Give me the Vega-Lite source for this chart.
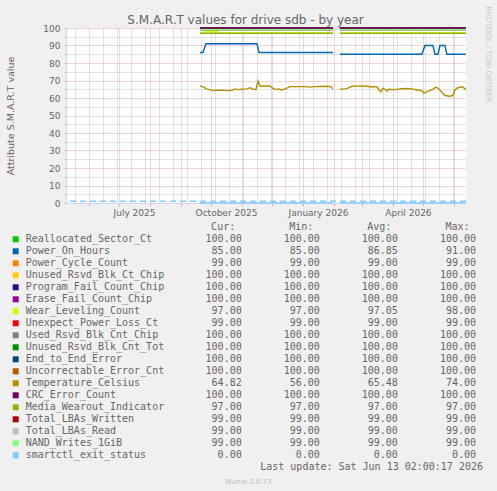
{
  "$schema": "https://vega.github.io/schema/vega-lite/v6.json",
  "background": "#F0F0F0",
  "autosize": "none",
  "padding": {"left": 66, "top": 28, "right": 31, "bottom": 288},
  "width": 400,
  "height": 175,
  "datasets": {
    "lines": [
      {"series": "Reallocated_Sector_Ct", "seg": "a", "date": "2025-09-20", "value": 100},
      {"series": "Reallocated_Sector_Ct", "seg": "a", "date": "2026-01-31", "value": 100},
      {"series": "Reallocated_Sector_Ct", "seg": "b", "date": "2026-02-07", "value": 100},
      {"series": "Reallocated_Sector_Ct", "seg": "b", "date": "2026-06-13", "value": 100},
      {"series": "Power_On_Hours", "seg": "a", "date": "2025-09-20", "value": 86},
      {"series": "Power_On_Hours", "seg": "a", "date": "2025-09-23", "value": 86},
      {"series": "Power_On_Hours", "seg": "a", "date": "2025-09-26", "value": 91},
      {"series": "Power_On_Hours", "seg": "a", "date": "2025-11-16", "value": 91},
      {"series": "Power_On_Hours", "seg": "a", "date": "2025-11-18", "value": 86},
      {"series": "Power_On_Hours", "seg": "a", "date": "2026-01-31", "value": 86},
      {"series": "Power_On_Hours", "seg": "b", "date": "2026-02-07", "value": 85},
      {"series": "Power_On_Hours", "seg": "b", "date": "2026-04-30", "value": 85},
      {"series": "Power_On_Hours", "seg": "b", "date": "2026-05-03", "value": 90},
      {"series": "Power_On_Hours", "seg": "b", "date": "2026-05-11", "value": 90},
      {"series": "Power_On_Hours", "seg": "b", "date": "2026-05-13", "value": 85},
      {"series": "Power_On_Hours", "seg": "b", "date": "2026-05-16", "value": 85},
      {"series": "Power_On_Hours", "seg": "b", "date": "2026-05-18", "value": 90},
      {"series": "Power_On_Hours", "seg": "b", "date": "2026-05-23", "value": 90},
      {"series": "Power_On_Hours", "seg": "b", "date": "2026-05-25", "value": 85},
      {"series": "Power_On_Hours", "seg": "b", "date": "2026-06-13", "value": 85},
      {"series": "Power_Cycle_Count", "seg": "a", "date": "2025-09-20", "value": 99},
      {"series": "Power_Cycle_Count", "seg": "a", "date": "2026-01-31", "value": 99},
      {"series": "Power_Cycle_Count", "seg": "b", "date": "2026-02-07", "value": 99},
      {"series": "Power_Cycle_Count", "seg": "b", "date": "2026-06-13", "value": 99},
      {"series": "Unused_Rsvd_Blk_Ct_Chip", "seg": "a", "date": "2025-09-20", "value": 100},
      {"series": "Unused_Rsvd_Blk_Ct_Chip", "seg": "a", "date": "2026-01-31", "value": 100},
      {"series": "Unused_Rsvd_Blk_Ct_Chip", "seg": "b", "date": "2026-02-07", "value": 100},
      {"series": "Unused_Rsvd_Blk_Ct_Chip", "seg": "b", "date": "2026-06-13", "value": 100},
      {"series": "Program_Fail_Count_Chip", "seg": "a", "date": "2025-09-20", "value": 100},
      {"series": "Program_Fail_Count_Chip", "seg": "a", "date": "2026-01-31", "value": 100},
      {"series": "Program_Fail_Count_Chip", "seg": "b", "date": "2026-02-07", "value": 100},
      {"series": "Program_Fail_Count_Chip", "seg": "b", "date": "2026-06-13", "value": 100},
      {"series": "Erase_Fail_Count_Chip", "seg": "a", "date": "2025-09-20", "value": 100},
      {"series": "Erase_Fail_Count_Chip", "seg": "a", "date": "2026-01-31", "value": 100},
      {"series": "Erase_Fail_Count_Chip", "seg": "b", "date": "2026-02-07", "value": 100},
      {"series": "Erase_Fail_Count_Chip", "seg": "b", "date": "2026-06-13", "value": 100},
      {"series": "Wear_Leveling_Count", "seg": "a", "date": "2025-09-20", "value": 97},
      {"series": "Wear_Leveling_Count", "seg": "a", "date": "2025-09-23", "value": 97},
      {"series": "Wear_Leveling_Count", "seg": "a", "date": "2025-09-26", "value": 98},
      {"series": "Wear_Leveling_Count", "seg": "a", "date": "2025-10-07", "value": 98},
      {"series": "Wear_Leveling_Count", "seg": "a", "date": "2025-10-10", "value": 97},
      {"series": "Wear_Leveling_Count", "seg": "a", "date": "2026-01-31", "value": 97},
      {"series": "Wear_Leveling_Count", "seg": "b", "date": "2026-02-07", "value": 97},
      {"series": "Wear_Leveling_Count", "seg": "b", "date": "2026-06-13", "value": 97},
      {"series": "Unexpect_Power_Loss_Ct", "seg": "a", "date": "2025-09-20", "value": 99},
      {"series": "Unexpect_Power_Loss_Ct", "seg": "a", "date": "2026-01-31", "value": 99},
      {"series": "Unexpect_Power_Loss_Ct", "seg": "b", "date": "2026-02-07", "value": 99},
      {"series": "Unexpect_Power_Loss_Ct", "seg": "b", "date": "2026-06-13", "value": 99},
      {"series": "Used_Rsvd_Blk_Cnt_Chip", "seg": "a", "date": "2025-09-20", "value": 100},
      {"series": "Used_Rsvd_Blk_Cnt_Chip", "seg": "a", "date": "2026-01-31", "value": 100},
      {"series": "Used_Rsvd_Blk_Cnt_Chip", "seg": "b", "date": "2026-02-07", "value": 100},
      {"series": "Used_Rsvd_Blk_Cnt_Chip", "seg": "b", "date": "2026-06-13", "value": 100},
      {"series": "Unused_Rsvd_Blk_Cnt_Tot", "seg": "a", "date": "2025-09-20", "value": 100},
      {"series": "Unused_Rsvd_Blk_Cnt_Tot", "seg": "a", "date": "2026-01-31", "value": 100},
      {"series": "Unused_Rsvd_Blk_Cnt_Tot", "seg": "b", "date": "2026-02-07", "value": 100},
      {"series": "Unused_Rsvd_Blk_Cnt_Tot", "seg": "b", "date": "2026-06-13", "value": 100},
      {"series": "End_to_End_Error", "seg": "a", "date": "2025-09-20", "value": 100},
      {"series": "End_to_End_Error", "seg": "a", "date": "2026-01-31", "value": 100},
      {"series": "End_to_End_Error", "seg": "b", "date": "2026-02-07", "value": 100},
      {"series": "End_to_End_Error", "seg": "b", "date": "2026-06-13", "value": 100},
      {"series": "Uncorrectable_Error_Cnt", "seg": "a", "date": "2025-09-20", "value": 100},
      {"series": "Uncorrectable_Error_Cnt", "seg": "a", "date": "2026-01-31", "value": 100},
      {"series": "Uncorrectable_Error_Cnt", "seg": "b", "date": "2026-02-07", "value": 100},
      {"series": "Uncorrectable_Error_Cnt", "seg": "b", "date": "2026-06-13", "value": 100},
      {"series": "Temperature_Celsius", "seg": "a", "date": "2025-09-20", "value": 66.9},
      {"series": "Temperature_Celsius", "seg": "a", "date": "2025-09-24", "value": 66.2},
      {"series": "Temperature_Celsius", "seg": "a", "date": "2025-09-26", "value": 65.2},
      {"series": "Temperature_Celsius", "seg": "a", "date": "2025-09-30", "value": 64.8},
      {"series": "Temperature_Celsius", "seg": "a", "date": "2025-10-03", "value": 64.2},
      {"series": "Temperature_Celsius", "seg": "a", "date": "2025-10-08", "value": 64.4},
      {"series": "Temperature_Celsius", "seg": "a", "date": "2025-10-13", "value": 64.4},
      {"series": "Temperature_Celsius", "seg": "a", "date": "2025-10-18", "value": 64.2},
      {"series": "Temperature_Celsius", "seg": "a", "date": "2025-10-22", "value": 64.4},
      {"series": "Temperature_Celsius", "seg": "a", "date": "2025-10-25", "value": 65.2},
      {"series": "Temperature_Celsius", "seg": "a", "date": "2025-10-28", "value": 64.8},
      {"series": "Temperature_Celsius", "seg": "a", "date": "2025-11-01", "value": 65.0},
      {"series": "Temperature_Celsius", "seg": "a", "date": "2025-11-06", "value": 65.2},
      {"series": "Temperature_Celsius", "seg": "a", "date": "2025-11-09", "value": 65.9},
      {"series": "Temperature_Celsius", "seg": "a", "date": "2025-11-12", "value": 65.0},
      {"series": "Temperature_Celsius", "seg": "a", "date": "2025-11-15", "value": 64.8},
      {"series": "Temperature_Celsius", "seg": "a", "date": "2025-11-17", "value": 69.8},
      {"series": "Temperature_Celsius", "seg": "a", "date": "2025-11-19", "value": 66.9},
      {"series": "Temperature_Celsius", "seg": "a", "date": "2025-11-29", "value": 66.9},
      {"series": "Temperature_Celsius", "seg": "a", "date": "2025-12-01", "value": 65.9},
      {"series": "Temperature_Celsius", "seg": "a", "date": "2025-12-04", "value": 64.8},
      {"series": "Temperature_Celsius", "seg": "a", "date": "2025-12-07", "value": 65.2},
      {"series": "Temperature_Celsius", "seg": "a", "date": "2025-12-11", "value": 64.6},
      {"series": "Temperature_Celsius", "seg": "a", "date": "2025-12-15", "value": 65.4},
      {"series": "Temperature_Celsius", "seg": "a", "date": "2025-12-19", "value": 66.5},
      {"series": "Temperature_Celsius", "seg": "a", "date": "2026-01-03", "value": 66.5},
      {"series": "Temperature_Celsius", "seg": "a", "date": "2026-01-08", "value": 66.2},
      {"series": "Temperature_Celsius", "seg": "a", "date": "2026-01-13", "value": 66.5},
      {"series": "Temperature_Celsius", "seg": "a", "date": "2026-01-26", "value": 66.7},
      {"series": "Temperature_Celsius", "seg": "a", "date": "2026-01-29", "value": 66.4},
      {"series": "Temperature_Celsius", "seg": "a", "date": "2026-01-31", "value": 65.2},
      {"series": "Temperature_Celsius", "seg": "b", "date": "2026-02-07", "value": 65.0},
      {"series": "Temperature_Celsius", "seg": "b", "date": "2026-02-12", "value": 65.2},
      {"series": "Temperature_Celsius", "seg": "b", "date": "2026-02-15", "value": 65.6},
      {"series": "Temperature_Celsius", "seg": "b", "date": "2026-02-19", "value": 66.7},
      {"series": "Temperature_Celsius", "seg": "b", "date": "2026-02-27", "value": 66.9},
      {"series": "Temperature_Celsius", "seg": "b", "date": "2026-03-06", "value": 66.7},
      {"series": "Temperature_Celsius", "seg": "b", "date": "2026-03-11", "value": 66.3},
      {"series": "Temperature_Celsius", "seg": "b", "date": "2026-03-16", "value": 66.5},
      {"series": "Temperature_Celsius", "seg": "b", "date": "2026-03-18", "value": 64.6},
      {"series": "Temperature_Celsius", "seg": "b", "date": "2026-03-20", "value": 63.6},
      {"series": "Temperature_Celsius", "seg": "b", "date": "2026-03-22", "value": 65.6},
      {"series": "Temperature_Celsius", "seg": "b", "date": "2026-03-24", "value": 65.0},
      {"series": "Temperature_Celsius", "seg": "b", "date": "2026-03-26", "value": 64.0},
      {"series": "Temperature_Celsius", "seg": "b", "date": "2026-03-28", "value": 65.0},
      {"series": "Temperature_Celsius", "seg": "b", "date": "2026-04-03", "value": 64.8},
      {"series": "Temperature_Celsius", "seg": "b", "date": "2026-04-08", "value": 65.2},
      {"series": "Temperature_Celsius", "seg": "b", "date": "2026-04-13", "value": 65.4},
      {"series": "Temperature_Celsius", "seg": "b", "date": "2026-04-20", "value": 65.2},
      {"series": "Temperature_Celsius", "seg": "b", "date": "2026-04-25", "value": 64.6},
      {"series": "Temperature_Celsius", "seg": "b", "date": "2026-04-30", "value": 64.2},
      {"series": "Temperature_Celsius", "seg": "b", "date": "2026-05-02", "value": 62.7},
      {"series": "Temperature_Celsius", "seg": "b", "date": "2026-05-05", "value": 63.6},
      {"series": "Temperature_Celsius", "seg": "b", "date": "2026-05-10", "value": 64.6},
      {"series": "Temperature_Celsius", "seg": "b", "date": "2026-05-14", "value": 66.2},
      {"series": "Temperature_Celsius", "seg": "b", "date": "2026-05-16", "value": 65.6},
      {"series": "Temperature_Celsius", "seg": "b", "date": "2026-05-20", "value": 63.3},
      {"series": "Temperature_Celsius", "seg": "b", "date": "2026-05-23", "value": 61.4},
      {"series": "Temperature_Celsius", "seg": "b", "date": "2026-05-28", "value": 61.0},
      {"series": "Temperature_Celsius", "seg": "b", "date": "2026-05-31", "value": 61.4},
      {"series": "Temperature_Celsius", "seg": "b", "date": "2026-06-02", "value": 64.6},
      {"series": "Temperature_Celsius", "seg": "b", "date": "2026-06-04", "value": 65.6},
      {"series": "Temperature_Celsius", "seg": "b", "date": "2026-06-08", "value": 66.3},
      {"series": "Temperature_Celsius", "seg": "b", "date": "2026-06-10", "value": 66.3},
      {"series": "Temperature_Celsius", "seg": "b", "date": "2026-06-13", "value": 64.8},
      {"series": "CRC_Error_Count", "seg": "a", "date": "2025-09-20", "value": 100},
      {"series": "CRC_Error_Count", "seg": "a", "date": "2026-01-31", "value": 100},
      {"series": "CRC_Error_Count", "seg": "b", "date": "2026-02-07", "value": 100},
      {"series": "CRC_Error_Count", "seg": "b", "date": "2026-06-13", "value": 100},
      {"series": "Media_Wearout_Indicator", "seg": "a", "date": "2025-09-20", "value": 97},
      {"series": "Media_Wearout_Indicator", "seg": "a", "date": "2026-01-31", "value": 97},
      {"series": "Media_Wearout_Indicator", "seg": "b", "date": "2026-02-07", "value": 97},
      {"series": "Media_Wearout_Indicator", "seg": "b", "date": "2026-06-13", "value": 97},
      {"series": "Total_LBAs_Written", "seg": "a", "date": "2025-09-20", "value": 99},
      {"series": "Total_LBAs_Written", "seg": "a", "date": "2026-01-31", "value": 99},
      {"series": "Total_LBAs_Written", "seg": "b", "date": "2026-02-07", "value": 99},
      {"series": "Total_LBAs_Written", "seg": "b", "date": "2026-06-13", "value": 99},
      {"series": "Total_LBAs_Read", "seg": "a", "date": "2025-09-20", "value": 99},
      {"series": "Total_LBAs_Read", "seg": "a", "date": "2026-01-31", "value": 99},
      {"series": "Total_LBAs_Read", "seg": "b", "date": "2026-02-07", "value": 99},
      {"series": "Total_LBAs_Read", "seg": "b", "date": "2026-06-13", "value": 99},
      {"series": "NAND_Writes_1GiB", "seg": "a", "date": "2025-09-20", "value": 99},
      {"series": "NAND_Writes_1GiB", "seg": "a", "date": "2026-01-31", "value": 99},
      {"series": "NAND_Writes_1GiB", "seg": "b", "date": "2026-02-07", "value": 99},
      {"series": "NAND_Writes_1GiB", "seg": "b", "date": "2026-06-13", "value": 99},
      {"series": "smartctl_exit_status", "seg": "a", "date": "2025-09-20", "value": 0},
      {"series": "smartctl_exit_status", "seg": "a", "date": "2026-01-31", "value": 0},
      {"series": "smartctl_exit_status", "seg": "b", "date": "2026-02-07", "value": 0},
      {"series": "smartctl_exit_status", "seg": "b", "date": "2026-06-13", "value": 0}
    ],
    "rules": [
      {"series": "smartctl_exit_status", "value": 1}
    ],
    "stats": [
      {"row": "Reallocated_Sector_Ct", "Cur": 100, "Min": 100, "Avg": 100, "Max": 100},
      {"row": "Power_On_Hours", "Cur": 85, "Min": 85, "Avg": 86.85, "Max": 91},
      {"row": "Power_Cycle_Count", "Cur": 99, "Min": 99, "Avg": 99, "Max": 99},
      {"row": "Unused_Rsvd_Blk_Ct_Chip", "Cur": 100, "Min": 100, "Avg": 100, "Max": 100},
      {"row": "Program_Fail_Count_Chip", "Cur": 100, "Min": 100, "Avg": 100, "Max": 100},
      {"row": "Erase_Fail_Count_Chip", "Cur": 100, "Min": 100, "Avg": 100, "Max": 100},
      {"row": "Wear_Leveling_Count", "Cur": 97, "Min": 97, "Avg": 97.05, "Max": 98},
      {"row": "Unexpect_Power_Loss_Ct", "Cur": 99, "Min": 99, "Avg": 99, "Max": 99},
      {"row": "Used_Rsvd_Blk_Cnt_Chip", "Cur": 100, "Min": 100, "Avg": 100, "Max": 100},
      {"row": "Unused_Rsvd_Blk_Cnt_Tot", "Cur": 100, "Min": 100, "Avg": 100, "Max": 100},
      {"row": "End_to_End_Error", "Cur": 100, "Min": 100, "Avg": 100, "Max": 100},
      {"row": "Uncorrectable_Error_Cnt", "Cur": 100, "Min": 100, "Avg": 100, "Max": 100},
      {"row": "Temperature_Celsius", "Cur": 64.82, "Min": 56, "Avg": 65.48, "Max": 74},
      {"row": "CRC_Error_Count", "Cur": 100, "Min": 100, "Avg": 100, "Max": 100},
      {"row": "Media_Wearout_Indicator", "Cur": 97, "Min": 97, "Avg": 97, "Max": 97},
      {"row": "Total_LBAs_Written", "Cur": 99, "Min": 99, "Avg": 99, "Max": 99},
      {"row": "Total_LBAs_Read", "Cur": 99, "Min": 99, "Avg": 99, "Max": 99},
      {"row": "NAND_Writes_1GiB", "Cur": 99, "Min": 99, "Avg": 99, "Max": 99},
      {"row": "smartctl_exit_status", "Cur": 0, "Min": 0, "Avg": 0, "Max": 0}
    ],
    "heads": [
      {"row": "_hdr", "col": "Cur", "label": "Cur:"},
      {"row": "_hdr", "col": "Min", "label": "Min:"},
      {"row": "_hdr", "col": "Avg", "label": "Avg:"},
      {"row": "_hdr", "col": "Max", "label": "Max:"}
    ],
    "footer": [
      {"row": "_upd", "col": "Max", "label": "Last update: Sat Jun 13 02:00:17 2026"}
    ]
  },
  "layer": [
    {
      "layer": [
        {
          "data": {"name": "lines"},
          "mark": {"type": "line", "strokeWidth": 1.4},
          "encoding": {
            "x": {
              "field": "date",
              "type": "temporal",
              "scale": {
                "type": "utc",
                "domain": [
                  {"year": 2025, "month": 5, "date": 9, "utc": true},
                  {"year": 2026, "month": 6, "date": 13, "hours": 2, "utc": true}
                ]
              },
              "axis": {
                "title": "Munin 2.0.73",
                "titleX": 182,
                "titleY": 278.7,
                "titleAlign": "center",
                "titleBaseline": "middle",
                "titleFontSize": 7,
                "titleFontWeight": "normal",
                "titleColor": "#BBBBBB",
                "tickCount": {"interval": "day", "step": 1},
                "grid": true,
                "gridDash": [1, 1],
                "gridColor": {"condition": {"test": "utcdate(datum.value) === 1", "value": "#E3AAAA"}, "value": "#C4C4C4"},
                "gridOpacity": {"condition": {"test": "utcdate(datum.value) === 1 || (utcday(datum.value) === 0 && floor((datum.value / 86400000 - 3) / 7) % 2 === 1)", "value": 1}, "value": 0},
                "ticks": true,
                "tickSize": 3,
                "tickColor": "#E3AAAA",
                "tickOpacity": {"condition": {"test": "utcdate(datum.value) === 1", "value": 1}, "value": 0},
                "labelExpr": "utcdate(datum.value) === 1 && utcmonth(datum.value) % 3 === 0 ? utcFormat(datum.value, '%B %Y') : ''",
                "labelOffset": 15,
                "labelOverlap": false,
                "labelFlush": false,
                "labelPadding": 2,
                "labelFontSize": 9,
                "labelColor": "#666666",
                "domainColor": "#CFD6F8"
              }
            },
            "y": {
              "field": "value",
              "type": "quantitative",
              "scale": {"domain": [0, 100], "nice": false},
              "axis": {
                "orient": "left",
                "title": "Attribute S.M.A.R.T value",
                "values": [0, 10, 20, 30, 40, 50, 60, 70, 80, 90, 100],
                "labelOverlap": false,
                "grid": true,
                "gridDash": [1, 1],
                "gridColor": "#E3AAAA",
                "ticks": true,
                "tickSize": 2,
                "tickColor": "#E3AAAA",
                "labelPadding": 4,
                "labelFontSize": 9,
                "labelColor": "#666666",
                "titlePadding": 27,
                "titleFontSize": 9.5,
                "titleFontWeight": "normal",
                "titleColor": "#666666",
                "domainColor": "#CFD6F8"
              }
            },
            "color": {
              "field": "series",
              "type": "nominal",
              "scale": {
                "domain": ["Reallocated_Sector_Ct", "Power_On_Hours", "Power_Cycle_Count", "Unused_Rsvd_Blk_Ct_Chip", "Program_Fail_Count_Chip", "Erase_Fail_Count_Chip", "Wear_Leveling_Count", "Unexpect_Power_Loss_Ct", "Used_Rsvd_Blk_Cnt_Chip", "Unused_Rsvd_Blk_Cnt_Tot", "End_to_End_Error", "Uncorrectable_Error_Cnt", "Temperature_Celsius", "CRC_Error_Count", "Media_Wearout_Indicator", "Total_LBAs_Written", "Total_LBAs_Read", "NAND_Writes_1GiB", "smartctl_exit_status"],
                "range": ["#00CC00", "#0066B3", "#FF8000", "#FFCC00", "#330099", "#990099", "#CCFF00", "#FF0000", "#808080", "#008F00", "#00487D", "#B35A00", "#B38F00", "#6B006B", "#8FB300", "#B30000", "#BEBEBE", "#80FF80", "#80C9FF"]
              },
              "legend": null
            },
            "detail": {"field": "seg", "type": "nominal"}
          }
        },
        {
          "data": {"name": "rules"},
          "mark": {"type": "rule", "strokeDash": [6, 4], "strokeWidth": 1.5},
          "encoding": {
            "y": {
              "field": "value",
              "type": "quantitative",
              "axis": {
                "orient": "left",
                "title": "S.M.A.R.T values for drive sdb - by year",
                "titleAngle": 0,
                "titleX": 179,
                "titleY": -5,
                "titleAlign": "center",
                "titleBaseline": "alphabetic",
                "titleFontSize": 12,
                "titleFontWeight": "normal",
                "titleColor": "#666666",
                "values": [5, 15, 25, 35, 45, 55, 65, 75, 85, 95],
                "labels": false,
                "domain": false,
                "grid": true,
                "gridDash": [1, 1],
                "gridColor": "#C4C4C4",
                "ticks": true,
                "tickSize": 2,
                "tickColor": "#C4C4C4"
              }
            },
            "color": {"field": "series", "type": "nominal"}
          }
        }
      ],
      "resolve": {"axis": {"y": "independent"}}
    },
    {
      "encoding": {
        "y": {
          "field": "row",
          "type": "nominal",
          "scale": {
            "type": "point",
            "domain": ["_hdr", "Reallocated_Sector_Ct", "Power_On_Hours", "Power_Cycle_Count", "Unused_Rsvd_Blk_Ct_Chip", "Program_Fail_Count_Chip", "Erase_Fail_Count_Chip", "Wear_Leveling_Count", "Unexpect_Power_Loss_Ct", "Used_Rsvd_Blk_Cnt_Chip", "Unused_Rsvd_Blk_Cnt_Tot", "End_to_End_Error", "Uncorrectable_Error_Cnt", "Temperature_Celsius", "CRC_Error_Count", "Media_Wearout_Indicator", "Total_LBAs_Written", "Total_LBAs_Read", "NAND_Writes_1GiB", "smartctl_exit_status", "_upd"],
            "range": [199.3, 439.3],
            "padding": 0
          },
          "axis": {
            "orient": "right",
            "labels": false,
            "ticks": false,
            "domain": false,
            "grid": false,
            "title": "RRDTOOL / TOBI OETIKER",
            "titleX": 21,
            "titleY": 26,
            "titleAngle": 90,
            "titleAlign": "center",
            "titleBaseline": "middle",
            "titleFontSize": 7.5,
            "titleFontWeight": "normal",
            "titleColor": "#C8C8C8"
          }
        }
      },
      "layer": [
        {
          "data": {"name": "heads"},
          "mark": {"type": "text", "align": "right", "dx": -6.5, "font": "DejaVu Sans Mono", "fontSize": 10, "color": "#666666"},
          "encoding": {
            "x": {"field": "col", "type": "nominal", "scale": {"type": "point", "domain": ["Cur", "Min", "Avg", "Max"], "range": [175.7, 410], "padding": 0}, "axis": null},
            "text": {"field": "label"}
          }
        },
        {
          "data": {"name": "stats"},
          "transform": [{"fold": ["Cur", "Min", "Avg", "Max"], "as": ["col", "val"]}],
          "mark": {"type": "text", "align": "right", "font": "DejaVu Sans Mono", "fontSize": 10, "color": "#666666"},
          "encoding": {
            "x": {"field": "col", "type": "nominal", "scale": {"type": "point", "domain": ["Cur", "Min", "Avg", "Max"], "range": [175.7, 410], "padding": 0}, "axis": null},
            "text": {"field": "val", "type": "quantitative", "format": ".2f"}
          }
        },
        {
          "data": {"name": "stats"},
          "mark": {"type": "text", "align": "left", "dx": -216, "font": "DejaVu Sans Mono", "fontSize": 10, "color": "#666666"},
          "encoding": {
            "x": {"datum": "Cur", "type": "nominal", "axis": null},
            "text": {"field": "row"}
          }
        },
        {
          "data": {"name": "stats"},
          "mark": {"type": "point", "shape": "square", "filled": true, "size": 36, "opacity": 1},
          "encoding": {
            "x": {"datum": "Cur", "type": "nominal", "axis": null},
            "xOffset": {"value": -226},
            "color": {"field": "row", "type": "nominal", "legend": null}
          }
        },
        {
          "data": {"name": "footer"},
          "mark": {"type": "text", "align": "right", "dx": 7, "font": "DejaVu Sans Mono", "fontSize": 10, "color": "#666666"},
          "encoding": {
            "x": {"field": "col", "type": "nominal", "axis": null},
            "text": {"field": "label"}
          }
        }
      ]
    }
  ],
  "resolve": {
    "scale": {"x": "independent", "y": "independent"},
    "axis": {"x": "independent", "y": "independent"}
  },
  "config": {
    "font": "DejaVu Sans",
    "view": {"fill": "#FFFFFF", "stroke": null}
  }
}
